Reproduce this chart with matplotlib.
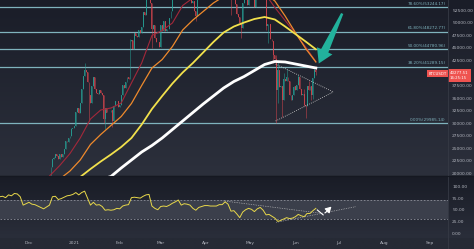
import matplotlib
matplotlib.use("Agg")
import matplotlib.pyplot as plt
import matplotlib.dates as mdates
import matplotlib.transforms as mtransforms
from matplotlib.patches import Polygon
import numpy as np
import pandas as pd

# daily BTCUSDT candles (close), starting 2020-12-12
candle_start = "2020-12-12"
first_open = 18050
closes = [
    18800, 19170, 19270, 19430, 21300, 22800, 23100, 23860, 23480, 22740,
    23820, 23250, 23730, 24710, 26490, 26280, 27080, 27390, 28900, 29000,
    # Jan
    29420, 32200, 33000, 32040, 34050, 36860, 39490, 40670, 40240, 38240,
    35540, 34010, 37390, 39150, 36770, 36010, 35800, 36630, 36020, 35550,
    30830, 33010, 32100, 32280, 32260, 32510, 30430, 33460, 34320, 34320, 33110,
    # Feb
    33530, 35510, 37620, 36940, 38290, 39260, 38870, 46450, 46510, 44840,
    47970, 47410, 47230, 48690, 47940, 49130, 52120, 51550, 55910, 55890,
    57410, 54090, 48890, 49680, 47070, 46280, 46110, 45140,
    # Mar
    49590, 48440, 50350, 48370, 48750, 48880, 50970, 52380, 54880, 55860,
    57770, 57220, 61190, 59000, 55630, 56900, 58910, 57650, 58030, 58100,
    57350, 54080, 54340, 52300, 51300, 55050, 55880, 55780, 57630, 58740, 58740,
    # Apr
    58720, 58990, 57060, 58200, 59130, 57990, 56000, 58090, 58110, 59770,
    60000, 59860, 63580, 62960, 63160, 61330, 60010, 56150, 55630, 56470,
    53800, 51700, 51190, 50090, 49070, 54030, 55030, 54820, 53560, 57690,
    # May
    57800, 56580, 57170, 53200, 57440, 56390, 57310, 58860, 58240, 55820,
    56670, 49380, 49700, 49880, 46760, 46430, 43540, 42850, 36690, 40530,
    37250, 37450, 34650, 38750, 38330, 39240, 38440, 35660, 34600, 35650, 37300,
    # Jun
    36690, 37570, 39190, 36850, 35520, 35800, 33550, 33380, 37390, 36690,
    37330, 35550, 39020, 40520, 40277.51,
]

wick_high = {
    "2021-01-08": 41950, "2021-02-08": 46800, "2021-05-19": 43500,
    "2021-05-20": 42400, "2021-05-24": 39900, "2021-05-26": 40800,
    "2021-06-03": 39500, "2021-06-07": 36800, "2021-06-10": 38400,
    "2021-06-14": 41000, "2021-06-15": 41300,
}
wick_low = {
    "2021-01-11": 30400, "2021-01-21": 30070, "2021-01-22": 28850,
    "2021-01-27": 29240, "2021-02-23": 45000, "2021-03-25": 50400,
    "2021-04-18": 51500, "2021-04-25": 47000, "2021-05-12": 48600,
    "2021-05-13": 46000, "2021-05-17": 42000, "2021-05-19": 29985,
    "2021-05-20": 34000, "2021-05-23": 31100, "2021-06-07": 33400,
    "2021-06-08": 31000, "2021-06-12": 34600, "2021-06-13": 34700,
    "2021-06-15": 39500,
}

# moving averages, weekly from 2020-12-15
ma_start = "2020-12-15"
ma_red = [19400, 21500, 23900, 27000, 30800, 32600, 33000, 34000, 38000, 42000,
          47500, 48500, 50000, 53500, 55000, 55500, 57000, 58500, 58500, 56000,
          56000, 56000, 53100, 50500, 47900, 45200, 42300]
ma_orange = [17200, 18800, 20400, 22600, 25700, 27700, 29500, 31300, 33900, 37500,
             41000, 42700, 45300, 48600, 50600, 52300, 54000, 55300, 56300, 56400,
             56300, 56000, 54400, 51400, 48100, 44900, 42200]
ma_yellow = [16500, 17600, 18700, 19200, 20800, 22300, 23700, 25200, 27000, 29700,
             32800, 35400, 37900, 40100, 42000, 44100, 46200, 48100, 49300, 50100,
             50800, 51200, 50700, 49300, 47800, 46300, 44750]
ma_white = [15500, 16100, 16700, 17400, 18100, 18700, 19300, 21000, 22600, 24200,
            25500, 27000, 28700, 30400, 32100, 33800, 35400, 37000, 38300, 39300,
            40500, 41700, 42300, 42200, 41800, 41400, 41000]

rsi_start = "2020-11-11"
rsi = [78, 79, 76, 82, 80, 85, 84, 78, 60, 63,
       66, 62, 61, 58, 55, 52, 56, 60, 78, 79,
       72, 74, 77, 80, 81, 83, 87, 82, 87, 90,
       75, 60, 66, 60, 61, 57, 49, 50, 49, 50,
       53, 52, 58, 60, 61, 76, 77, 76, 75, 79,
       82, 83, 58, 53, 50, 57, 58, 57, 60, 64,
       67, 71, 60, 63, 62, 60, 53, 49, 55, 57,
       59, 59, 58, 58, 58, 61, 61, 67, 62, 47,
       48, 41, 33, 45, 50, 53, 51, 46, 52, 55,
       49, 39, 40, 36, 32, 25, 27, 30, 33, 31,
       32, 35, 40, 37, 35, 42, 42, 48, 53]

fib_low = 29985.14
fib_high = 59576.78
fib_ratios = [0, 0.382, 0.5, 0.618, 0.786]

price_ticks = list(range(20000, 52501, 2500))
rsi_ticks = [0, 25, 50, 75, 100]
month_ticks = ["2020-12-01", "2021-01-01", "2021-02-01", "2021-03-01", "2021-04-01",
               "2021-05-01", "2021-06-01", "2021-07-01", "2021-08-01", "2021-09-01"]
month_labels = ["Dec", "2021", "Feb", "Mar", "Apr", "May", "Jun", "Jul", "Aug", "Sep"]

last_price = 40277.51
countdown = "16:25:15"

W, H = 474, 249
fig = plt.figure(figsize=(W / 100, H / 100), dpi=100)

# background gradients (price pane, rsi pane, time strip)
bg = fig.add_axes([0, 0, 1, 1])
bg.axis("off")
def ramp(c0, c1, n):
    c0 = np.array(matplotlib.colors.to_rgb(c0))
    c1 = np.array(matplotlib.colors.to_rgb(c1))
    t = np.linspace(0, 1, n)[:, None]
    return c0 * (1 - t) + c1 * t
rows = np.vstack([ramp("#1a1d28", "#2c303c", 176),
                  ramp("#191c26", "#2a2e3a", 62),
                  ramp("#262a35", "#262a35", 11)])
bg.imshow(rows[:, None, :], aspect="auto", extent=[0, 1, 0, 1], interpolation="bilinear")

main = fig.add_axes([0, (H - 176) / H, 448 / W, 176 / H])
low = fig.add_axes([0, (H - 238) / H, 448 / W, 62 / H], sharex=main)
for a in (main, low):
    a.patch.set_alpha(0)
    for s in a.spines.values():
        s.set_visible(False)

x0 = mdates.date2num(pd.Timestamp("2020-12-01")) - 29 / 1.4635
x1 = x0 + 448 / 1.4635
main.set_xlim(x0, x1)
main.set_ylim(19400, 54600)
low.set_ylim(-10.75, 122.6)

fib_col = "#7fb3bd"
for r in fib_ratios:
    p = fib_low + r * (fib_high - fib_low)
    main.axhline(p, color=fib_col, lw=0.9, zorder=1)
    main.text(0.995, p + 250, f"{r * 100:.2f}%({p:.2f})", transform=mtransforms.blended_transform_factory(main.transAxes, main.transData),
              ha="right", va="bottom", fontsize=3, color=fib_col)

# candles
dates = pd.date_range(candle_start, periods=len(closes))
opens = [first_open] + closes[:-1]
xs = mdates.date2num(dates)
up, down = "#26a69a", "#e0474f"
for d, x, o, c in zip(dates, xs, opens, closes):
    col = up if c >= o else down
    key = d.strftime("%Y-%m-%d")
    hi = wick_high.get(key, max(o, c))
    lo = wick_low.get(key, min(o, c))
    main.vlines(x, lo, hi, color=col, lw=0.45, alpha=0.75, zorder=2)
    main.bar(x, abs(c - o), bottom=min(o, c), width=0.6, color=col, lw=0, alpha=0.75, zorder=2)

ma_x = pd.date_range(ma_start, periods=len(ma_red), freq="7D")
main.plot(ma_x, ma_red, color="#a3283a", lw=0.8, zorder=3)
main.plot(ma_x, ma_orange, color="#ef8a2c", lw=0.9, zorder=3)
main.plot(ma_x, ma_yellow, color="#f2e14c", lw=1.3, zorder=3)
main.plot(ma_x, ma_white, color="#ffffff", lw=2.0, zorder=3)

# triangle drawing
tri = mdates.date2num([pd.Timestamp("2021-05-18 12:00"), pd.Timestamp("2021-06-27")])
main.plot(tri, [41800, 36200], color="#d0d0d0", lw=0.6, ls=(0, (1, 1.5)), zorder=4)
main.plot(tri, [30400, 36200], color="#d0d0d0", lw=0.6, ls=(0, (1, 1.5)), zorder=4)

# big arrow
tail = main.transData.transform((mdates.date2num(pd.Timestamp("2021-07-03")), 51900))
tip = main.transData.transform((mdates.date2num(pd.Timestamp("2021-06-17")), 41900))
v = tip - tail
u = v / np.hypot(*v)
n = np.array([-u[1], u[0]])
hl, hw, nw, tw = 14, 8.5, 4, 1.2
base = tip - u * hl
pts = [tail + n * tw, base + n * nw, base + n * hw, tip, base - n * hw, base - n * nw, tail - n * tw]
main.add_patch(Polygon(pts, closed=True, transform=mtransforms.IdentityTransform(),
                       fc="#22b29c", ec="none", zorder=5))

main.yaxis.tick_right()
main.set_yticks(price_ticks)
# the 40000 label sits under the last-price tag
main.set_yticklabels(["" if v == 40000 else f"{v:.2f}" for v in price_ticks])
main.tick_params(axis="y", length=0, pad=3, labelsize=3.2, labelcolor="#b2b5be")
main.tick_params(axis="x", length=0, labelbottom=False)

bt = mtransforms.blended_transform_factory(main.transAxes, main.transData)
main.text(0.997, last_price - 400, "BTCUSDT", transform=bt, ha="right", va="center", fontsize=2.8,
          color="white", bbox=dict(fc="#ef5350", ec="none", pad=0.8), zorder=6)
main.text(1.004, last_price - 700, f"{last_price:.2f}\n{countdown}", transform=bt, ha="left", va="center",
          fontsize=2.8, color="white", linespacing=1.3, clip_on=False,
          bbox=dict(fc="#ef5350", ec="none", pad=1.5), zorder=6)

# RSI pane
low.axhspan(30, 70, color="#3b3f4b", lw=0, zorder=0)
for lvl in (30, 70):
    low.axhline(lvl, color="#8d9099", lw=0.6, ls=(0, (2, 2)), zorder=1)
rsi_x = pd.date_range(rsi_start, periods=len(rsi), freq="2D")
low.plot(rsi_x, rsi, color="#e8d84a", lw=0.7, zorder=3)

t1 = [pd.Timestamp("2021-04-13"), pd.Timestamp("2021-06-17")]
low.plot(t1, [69, 43], color="#cfcfcf", lw=0.5, ls=(0, (1, 1.5)), zorder=2)
t2 = [pd.Timestamp("2021-05-19"), pd.Timestamp("2021-07-12")]
low.plot(t2, [23, 56.5], color="#cfcfcf", lw=0.5, ls=(0, (1, 1.5)), zorder=2)
z = [pd.Timestamp("2021-06-16"), pd.Timestamp("2021-06-20")]
low.plot(z, [49.5, 39], color="white", lw=0.8, zorder=4)
low.annotate("", xy=(mdates.date2num(pd.Timestamp("2021-06-27")), 61),
             xytext=(mdates.date2num(pd.Timestamp("2021-06-20")), 39),
             arrowprops=dict(arrowstyle="-|>,head_length=0.35,head_width=0.2", color="white", lw=0.8), zorder=4)

low.yaxis.tick_right()
low.set_yticks(rsi_ticks)
low.set_yticklabels([f"{v:.2f}" for v in rsi_ticks])
low.tick_params(axis="y", length=0, pad=3, labelsize=3.2, labelcolor="#b2b5be")
low.set_xticks(mdates.date2num(pd.to_datetime(month_ticks)))
low.set_xticklabels(month_labels)
low.tick_params(axis="x", length=0, pad=2, labelsize=3.2, labelcolor="#b2b5be")

fig.add_artist(plt.Line2D([448 / W, 448 / W], [0, 1], color="#363a45", lw=0.6))
fig.add_artist(plt.Line2D([0, 1], [(H - 176) / H] * 2, color="#151821", lw=0.8))

fig.savefig("out.png", dpi=100)
